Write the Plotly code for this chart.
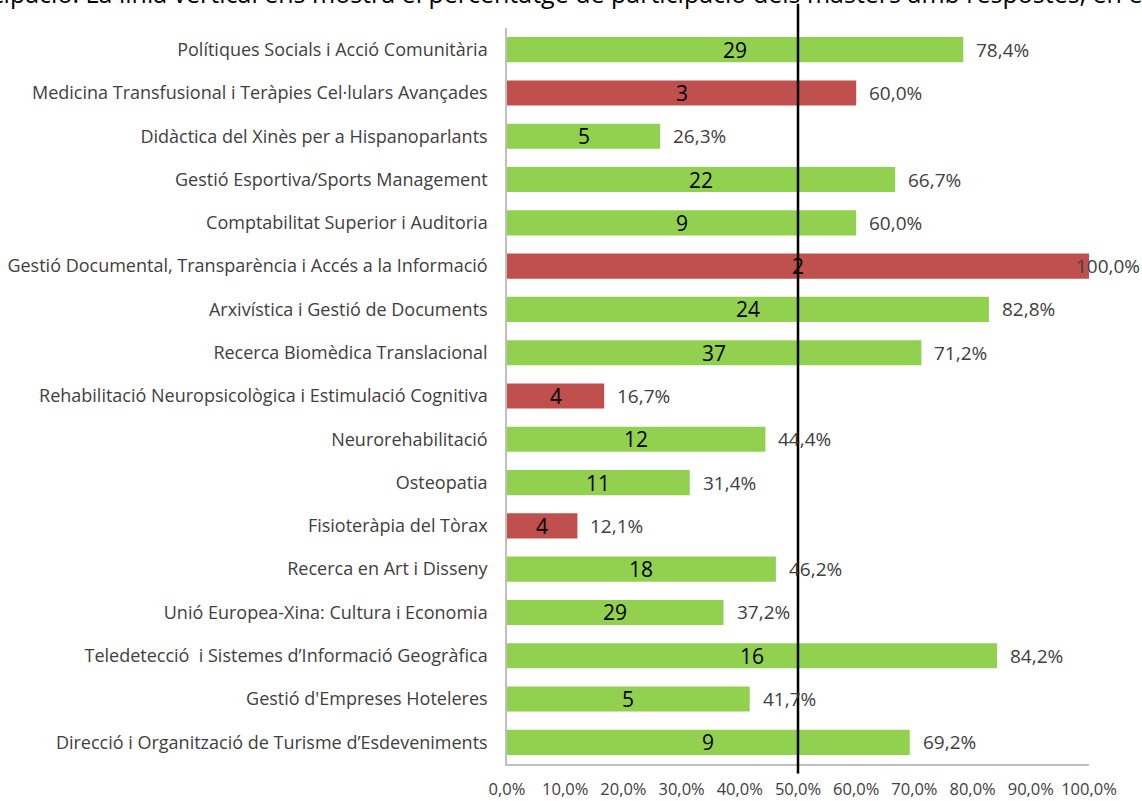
import plotly.graph_objects as go

categories = [
    "Polítiques Socials i Acció Comunitària",
    "Medicina Transfusional i Teràpies Cel·lulars Avançades",
    "Didàctica del Xinès per a Hispanoparlants",
    "Gestió Esportiva/Sports Management",
    "Comptabilitat Superior i Auditoria",
    "Gestió Documental, Transparència i Accés a la Informació",
    "Arxivística i Gestió de Documents",
    "Recerca Biomèdica Translacional",
    "Rehabilitació Neuropsicològica i Estimulació Cognitiva",
    "Neurorehabilitació",
    "Osteopatia",
    "Fisioteràpia del Tòrax",
    "Recerca en Art i Disseny",
    "Unió Europea-Xina: Cultura i Economia",
    "Teledetecció  i Sistemes d’Informació Geogràfica",
    "Gestió d'Empreses Hoteleres",
    "Direcció i Organització de Turisme d’Esdeveniments",
]
counts = [29, 3, 5, 22, 9, 2, 24, 37, 4, 12, 11, 4, 18, 29, 16, 5, 9]
percents = [78.4, 60.0, 26.3, 66.7, 60.0, 100.0, 82.8, 71.2, 16.7, 44.4, 31.4, 12.1, 46.2, 37.2, 84.2, 41.7, 69.2]
low_response = [False, True, False, False, False, True, False, False, True, False, False, True, False, False, False, False, False]
tick_vals = [0, 10, 20, 30, 40, 50, 60, 70, 80, 90, 100]
tick_text = ["0,0%", "10,0%", "20,0%", "30,0%", "40,0%", "50,0%", "60,0%", "70,0%", "80,0%", "90,0%", "100,0%"]
reference_line = 50
title_text = "participació. La línia vertical ens mostra el percentatge de participació dels màsters amb respostes, en el"

GREEN = "#92D050"
RED = "#C0504D"
FONT = "Open Sans"

colors = [RED if f else GREEN for f in low_response]

fig = go.Figure()
fig.add_trace(go.Bar(
    y=categories, x=percents, orientation="h",
    marker=dict(color=colors, line=dict(width=0)),
    hoverinfo="skip",
))

for cat, p, c in zip(categories, percents, counts):
    # count label centred in the bar
    fig.add_annotation(x=p / 2, y=cat, xref="x", yref="y", text=str(c), showarrow=False,
                       xanchor="center", font=dict(family=FONT, size=21, color="#000000"))
    label = f"{p:.1f}%".replace(".", ",")
    shift = -15 if p >= 99.9 else 11
    fig.add_annotation(x=p, y=cat, xref="x", yref="y", text=label, showarrow=False,
                       xanchor="left", xshift=shift, font=dict(family=FONT, size=19, color="#404040"))

fig.add_shape(type="line", xref="x", yref="paper", x0=reference_line, x1=reference_line,
              y0=-0.013, y1=1.033, line=dict(color="#000000", width=2.5))

fig.add_annotation(xref="paper", yref="paper", x=0, y=1, xanchor="left", yanchor="middle",
                   xshift=-572, yshift=35, text=title_text, showarrow=False,
                   font=dict(family=FONT, size=25, color="#000000"))

fig.update_layout(
    width=1142, height=801,
    margin=dict(l=507, r=53, t=28, b=37),
    paper_bgcolor="white", plot_bgcolor="white",
    bargap=0.42, showlegend=False,
    font=dict(family=FONT, size=16, color="#404040"),
)
fig.update_xaxes(range=[0, 100], tickvals=tick_vals, ticktext=tick_text, showgrid=False,
                 zeroline=False, showline=True, linecolor="#BFBFBF", linewidth=1.5,
                 ticks="", ticklabelstandoff=9, automargin=False,
                 tickfont=dict(family=FONT, size=16.5, color="#404040"))
fig.update_yaxes(categoryorder="array", categoryarray=categories, autorange="reversed",
                 showgrid=False, zeroline=False, showline=True, linecolor="#BFBFBF", linewidth=1.5,
                 ticks="", ticklabelstandoff=14, automargin=False,
                 tickfont=dict(family=FONT, size=18, color="#404040"))

fig.write_html("out.html", config={"displayModeBar": False},
               post_script="document.body.style.margin='0';")
